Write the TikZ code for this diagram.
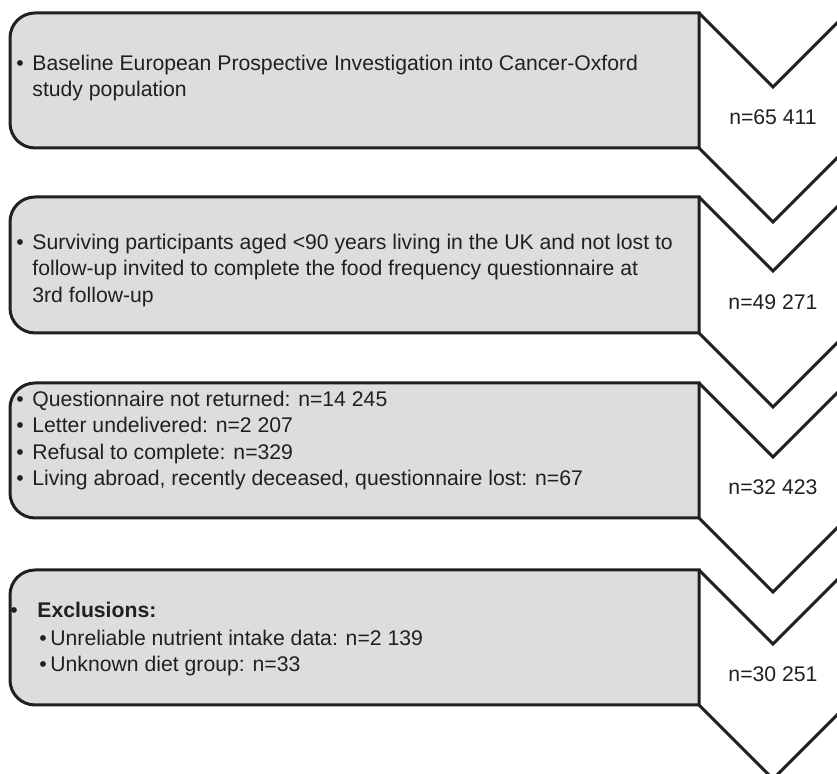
\documentclass[tikz,border=0pt]{standalone}
\usepackage{fontspec}
\setmainfont{Liberation Sans}
\usepackage{xcolor}
\usepackage{tikz}
\definecolor{boxgrey}{RGB}{220,221,223}
\definecolor{ink}{RGB}{35,31,32}
\newcommand{\bul}{\makebox[8pt][l]{\textbullet}}
\tikzset{
  panel/.style={draw=ink, line width=1.5pt, fill=boxgrey},
  chev/.style={draw=ink, line width=1.5pt, line join=miter},
  txt/.style={anchor=west, inner sep=0pt, text height=8pt, text depth=2.5pt, text=ink, font=\fontsize{10.6}{13}\selectfont},
  count/.style={inner sep=0pt, text=ink, font=\fontsize{10.6}{13}\selectfont}
}

\begin{document}
\begin{tikzpicture}[x=.5pt,y=.5pt]
\useasboundingbox (0,0) rectangle (837,774);
\begin{scope}
\clip (0,0) rectangle (837,774);
\foreach \T/\B/\n [count=\i] in {761/626/65 411, 577/441/49 271, 391/256/32 423, 204/69/30 251} {
 \draw[panel] (699,\T) -- (35,\T) arc[start angle=90,end angle=180,radius=25] -- (10,\B+25) arc[start angle=180,end angle=270,radius=25] -- (699,\B) -- cycle;
 \draw[chev] (699,\T) -- (773,\T-74) -- (847,\T);
 \draw[chev] (699,\B) -- (773,\B-74) -- (847,\B);
 \node[count] (n\i) at (773,{(\T-74+\B)/2}) {n=\n};
}
\end{scope}

% box 1
\node[txt] (base1) at (16,709) {\bul Baseline European Prospective Investigation into Cancer-Oxford};
\node[txt] (base2) at (32,683) {study population};
% box 2
\node[txt] (inv1) at (16,530) {\bul Surviving participants aged <90 years living in the UK and not lost to};
\node[txt] (inv2) at (32,503.5) {follow-up invited to complete the food frequency questionnaire at};
\node[txt] (inv3) at (32,477) {3rd follow-up};
% box 3
\foreach \s [count=\k] in {Questionnaire not returned: n=14 245, Letter undelivered: n=2 207,
  Refusal to complete: n=329, {Living abroad, recently deceased, questionnaire lost: n=67}}
  \node[txt] (ret\k) at (16,{373-26.5*(\k-1)}) {\bul\s};
% box 4
\node[txt] (excl) at (10,162) {\makebox[13.5pt][l]{\textbullet}\textbf{Exclusions:}};
\node[txt] (excl1) at (39,134) {\makebox[5.5pt][l]{\textbullet}Unreliable nutrient intake data: n=2 139};
\node[txt] (excl2) at (39,107.5) {\makebox[5.5pt][l]{\textbullet}Unknown diet group: n=33};
\end{tikzpicture}
\end{document}
